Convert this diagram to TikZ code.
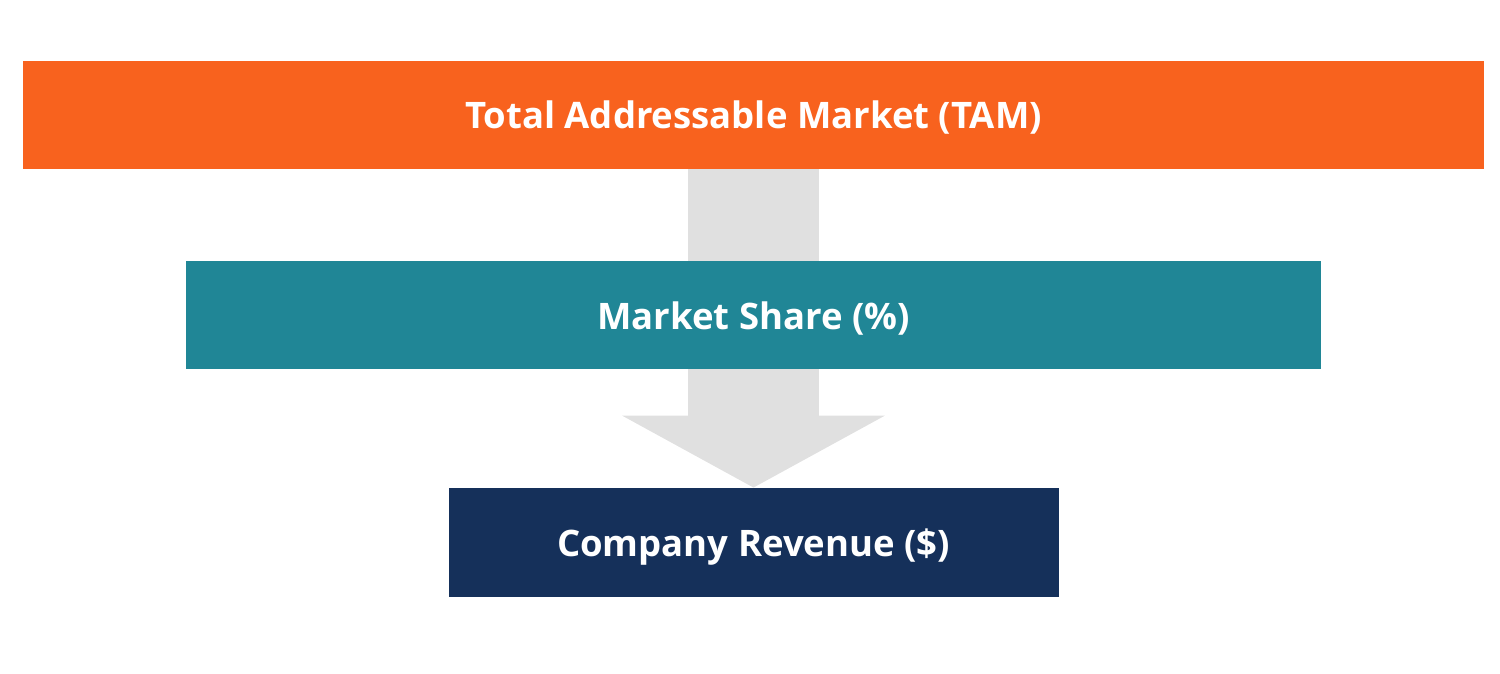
\documentclass[tikz,border=0pt]{standalone}
\usepackage{fontspec}
\setmainfont{Open Sans}
\usetikzlibrary{positioning, arrows.meta, backgrounds}

\definecolor{tamorange}{RGB}{248,98,30}
\definecolor{shareteal}{RGB}{32,134,150}
\definecolor{revnavy}{RGB}{21,48,90}
\definecolor{flowgray}{RGB}{224,224,224}

\begin{document}
\begin{tikzpicture}[
        x=1pt, y=1pt,
        bar/.style={rectangle, inner sep=0pt, minimum height=108pt, text depth=0pt, text centered, text=white, font=\fontsize{36.5}{44}\selectfont\bfseries},
        flow/.style={draw=flowgray, line width=131pt, -{Triangle[length=72pt, width=260pt]}}
    ]
        \useasboundingbox (0,0) rectangle (1500,674);

        % Ba khối chính
        \node (tam) [bar, fill=tamorange, minimum width=1461pt] at (753.5,559) {Total Addressable Market (TAM)};
        \node (share) [bar, fill=shareteal, minimum width=1135pt, below=92pt of tam] {Market Share (\%)};
        \node (rev) [bar, fill=revnavy, minimum width=610pt, minimum height=109pt, below=118pt of share] {Company Revenue (\$)};

        % Mũi tên nền
        \begin{pgfonlayer}{background}
            \draw [flow] (tam.south) -- (rev.north);
        \end{pgfonlayer}

    \end{tikzpicture}
\end{document}
